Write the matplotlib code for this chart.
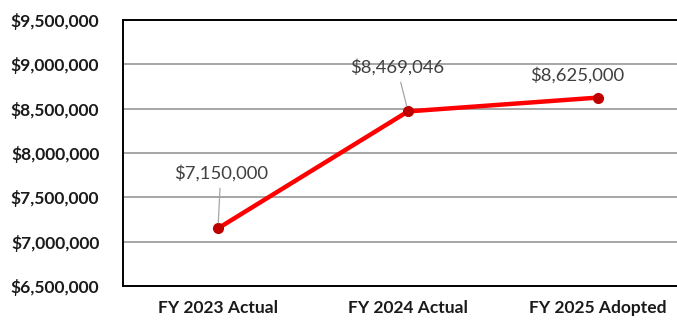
import matplotlib.pyplot as plt
from matplotlib.ticker import FuncFormatter

years = ["FY 2023 Actual", "FY 2024 Actual", "FY 2025 Adopted"]
amounts = [7150000, 8469046, 8625000]
y_ticks = [6500000, 7000000, 7500000, 8000000, 8500000, 9000000, 9500000]

# label offsets in points (dx, dy) and whether a leader line is drawn
label_offsets = [(2, 40), (-8, 32), (-15, 16)]
leaders = [True, True, False]

plt.rcParams['font.family'] = ['Lato', 'DejaVu Sans']

fig = plt.figure(figsize=(6.77, 3.2), dpi=100)
ax = fig.add_axes([123 / 677, 34 / 320, 570 / 677, 266 / 320])

x = range(len(years))
ax.plot(x, amounts, color='#FF0000', linewidth=3.2, zorder=3,
        marker='o', markersize=7, markerfacecolor='#C00000',
        markeredgecolor='#C00000')

for i, v in enumerate(amounts):
    dx, dy = label_offsets[i]
    arrow = dict(arrowstyle='-', color='#A6A6A6', lw=0.9, shrinkA=3, shrinkB=4) if leaders[i] else None
    ax.annotate("${:,.0f}".format(v), xy=(i, v), xytext=(dx, dy),
                textcoords='offset points', ha='center', va='center',
                fontsize=13.3, color='#404040', arrowprops=arrow)

ax.set_xlim(-0.5, 2.5)
ax.set_ylim(y_ticks[0], y_ticks[-1])
ax.set_yticks(y_ticks)
ax.yaxis.set_major_formatter(FuncFormatter(lambda v, p: "${:,.0f}".format(v)))
ax.set_xticks(list(x))
ax.set_xticklabels(years)

ax.grid(axis='y', color='#A6A6A6', linewidth=1.4)
ax.set_axisbelow(True)
for s in ['left', 'bottom', 'top']:
    ax.spines[s].set_color('#000000')
    ax.spines[s].set_linewidth(1.4)
ax.spines['right'].set_visible(False)

ax.tick_params(axis='both', length=0, labelsize=12.5, labelcolor='#1a1a1a')
ax.tick_params(axis='y', pad=17)
ax.tick_params(axis='x', pad=10)
for lbl in ax.get_xticklabels() + ax.get_yticklabels():
    lbl.set_fontweight('bold')

fig.savefig('out.png', dpi=100)
